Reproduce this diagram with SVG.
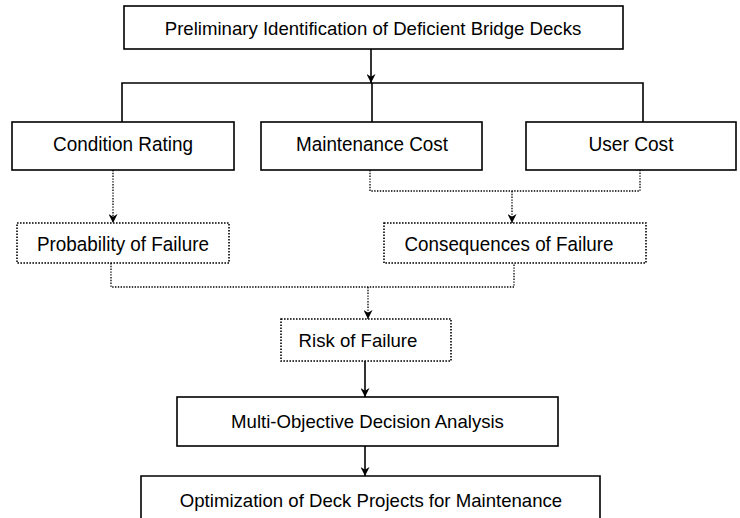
<svg xmlns="http://www.w3.org/2000/svg" width="740" height="518" viewBox="0 0 740 518">
<defs>
<style>
.box{fill:#fff;stroke:#000;stroke-width:1.6}
.dbox{fill:#fff;stroke:#000;stroke-width:1.6;stroke-dasharray:1.6 1.4}
.ln{fill:none;stroke:#000;stroke-width:1.6}
.dl{fill:none;stroke:#000;stroke-width:1.3;stroke-dasharray:1.4 1.4}
.t{font-family:"Liberation Sans",Arial,sans-serif;font-size:18.6px;fill:#000;text-anchor:middle}
.tc{font-family:"Liberation Sans",Arial,sans-serif;font-size:20.5px;fill:#000;text-anchor:middle}
</style>
<marker id="ah" viewBox="0 0 10 10" refX="10" refY="5" markerWidth="9" markerHeight="9" markerUnits="userSpaceOnUse" orient="auto">
<path d="M0,0 L10,5 L0,10 L3,5 z" fill="#000"/>
</marker>
</defs>
<rect width="740" height="518" fill="#fff"/>
<g id="connectors">
<path class="ln" d="M371,49 V83" marker-end="url(#ah)"/>
<path class="ln" d="M122,122 V83 H643 V122"/>
<path class="ln" d="M372,83 V122"/>
<path class="dl" d="M113,170 V223" marker-end="url(#ah)"/>
<path class="dl" d="M370,170 V191 H640 V170"/>
<path class="dl" d="M512,191 V223" marker-end="url(#ah)"/>
<path class="dl" d="M111,263 V287 H514 V263"/>
<path class="dl" d="M368,287 V319" marker-end="url(#ah)"/>
<path class="ln" d="M365,361 V397" marker-end="url(#ah)"/>
<path class="ln" d="M365,446 V476" marker-end="url(#ah)"/>
</g>
<g id="n1"><rect class="box" x="124" y="6" width="499" height="43"/><text class="t" x="373" y="34.5">Preliminary Identification of Deficient Bridge Decks</text></g>
<g id="n2"><rect class="box" x="12" y="122" width="222" height="48"/><text class="tc" x="123" y="151" textLength="140" lengthAdjust="spacingAndGlyphs">Condition Rating</text></g>
<g id="n3"><rect class="box" x="261" y="122" width="221" height="48"/><text class="tc" x="372" y="151" textLength="152" lengthAdjust="spacingAndGlyphs">Maintenance Cost</text></g>
<g id="n4"><rect class="box" x="526" y="122" width="210" height="48"/><text class="tc" x="631" y="151" textLength="85" lengthAdjust="spacingAndGlyphs">User Cost</text></g>
<g id="n5"><rect class="dbox" x="17" y="223" width="212" height="40"/><text class="tc" x="123" y="251" textLength="172" lengthAdjust="spacingAndGlyphs">Probability of Failure</text></g>
<g id="n6"><rect class="dbox" x="384" y="223" width="262" height="40"/><text class="tc" x="509" y="251" textLength="209" lengthAdjust="spacingAndGlyphs">Consequences of Failure</text></g>
<g id="n7"><rect class="dbox" x="281" y="319" width="170" height="42"/><text class="t" x="358" y="347">Risk of Failure</text></g>
<g id="n8"><rect class="box" x="177" y="397" width="381" height="49"/><text class="t" x="367.5" y="428">Multi-Objective Decision Analysis</text></g>
<g id="n9"><path class="ln" d="M141,520 V476 H600 V520"/><text class="t" x="371" y="507">Optimization of Deck Projects for Maintenance</text></g>
</svg>
